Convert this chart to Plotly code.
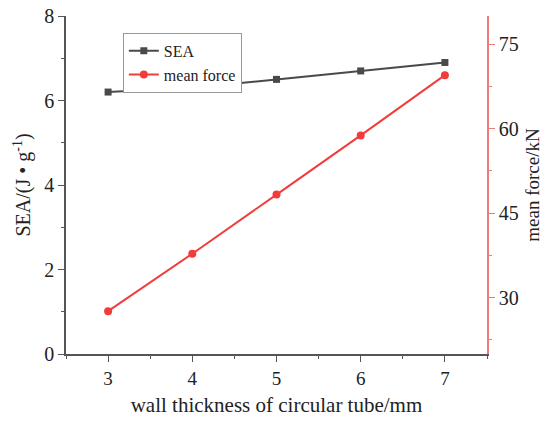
import plotly.graph_objects as go

thickness = [3, 4, 5, 6, 7]
sea = [6.2, 6.3, 6.5, 6.7, 6.9]
mean_force = [27.6, 37.8, 48.3, 58.8, 69.5]
sea_ticks = [0, 2, 4, 6, 8]
force_ticks = [30, 45, 60, 75]

font = "Liberation Serif, Times New Roman, serif"
gray = "#4a4a4a"
red = "#f23c3c"
axred = "#f07a7a"

fig = go.Figure()
fig.add_trace(go.Scatter(x=thickness, y=sea, name="SEA", mode="lines+markers",
                         line=dict(color=gray, width=2),
                         marker=dict(symbol="square", size=7, color=gray)))
fig.add_trace(go.Scatter(x=thickness, y=mean_force, name="mean force", mode="lines+markers",
                         line=dict(color=red, width=2),
                         marker=dict(symbol="circle", size=8, color=red), yaxis="y2"))

# page body adds an 8px offset; figure sized to fit the window so the plot area lands at x 66-487, y ~16-354
fig.update_layout(
    width=544, height=417,
    margin=dict(l=58, r=65, t=8, b=71),
    plot_bgcolor="white", paper_bgcolor="white",
    font=dict(family=font, size=18, color="#222"),
    showlegend=True,
    legend=dict(x=0.135, y=0.95, xanchor="left", yanchor="top",
                bordercolor="#999", borderwidth=1, bgcolor="white",
                font=dict(size=16), tracegroupgap=0, itemwidth=30),
    xaxis=dict(range=[2.5, 7.5], tickvals=thickness, showline=True, linecolor="#555",
               linewidth=1.5, ticks="outside", ticklen=6, tickcolor="#555", showgrid=False,
               zeroline=False, tickfont=dict(size=19), automargin=False, ticklabeloverflow="allow",
               minor=dict(dtick=0.5, tick0=2.5, ticks="outside", ticklen=3, tickcolor="#555"),
               title=dict(text="wall thickness of circular tube/mm", font=dict(size=21), standoff=10)),
    yaxis=dict(range=[0, 8], tickvals=sea_ticks, showline=True, linecolor="#555", linewidth=1.5,
               ticks="outside", ticklen=6, tickcolor="#555", showgrid=False, zeroline=False,
               tickfont=dict(size=20), automargin=False, ticklabeloverflow="allow",
               minor=dict(dtick=1, ticks="outside", ticklen=3, tickcolor="#555"),
               title=dict(text="SEA/(J • g<sup>-1</sup>)", font=dict(size=20), standoff=8)),
    yaxis2=dict(range=[20, 80], tickvals=force_ticks, overlaying="y", side="right",
                showline=True, linecolor=axred, linewidth=1.5, ticks="outside", ticklen=6,
                tickcolor=axred, showgrid=False, zeroline=False, tickfont=dict(size=20),
                automargin=False, ticklabeloverflow="allow",
                minor=dict(tickvals=[22.5, 37.5, 52.5, 67.5], ticks="outside", ticklen=3, tickcolor=axred),
                title=dict(text="mean force/kN", font=dict(size=19), standoff=8)),
)

fig.write_html("out.html")
